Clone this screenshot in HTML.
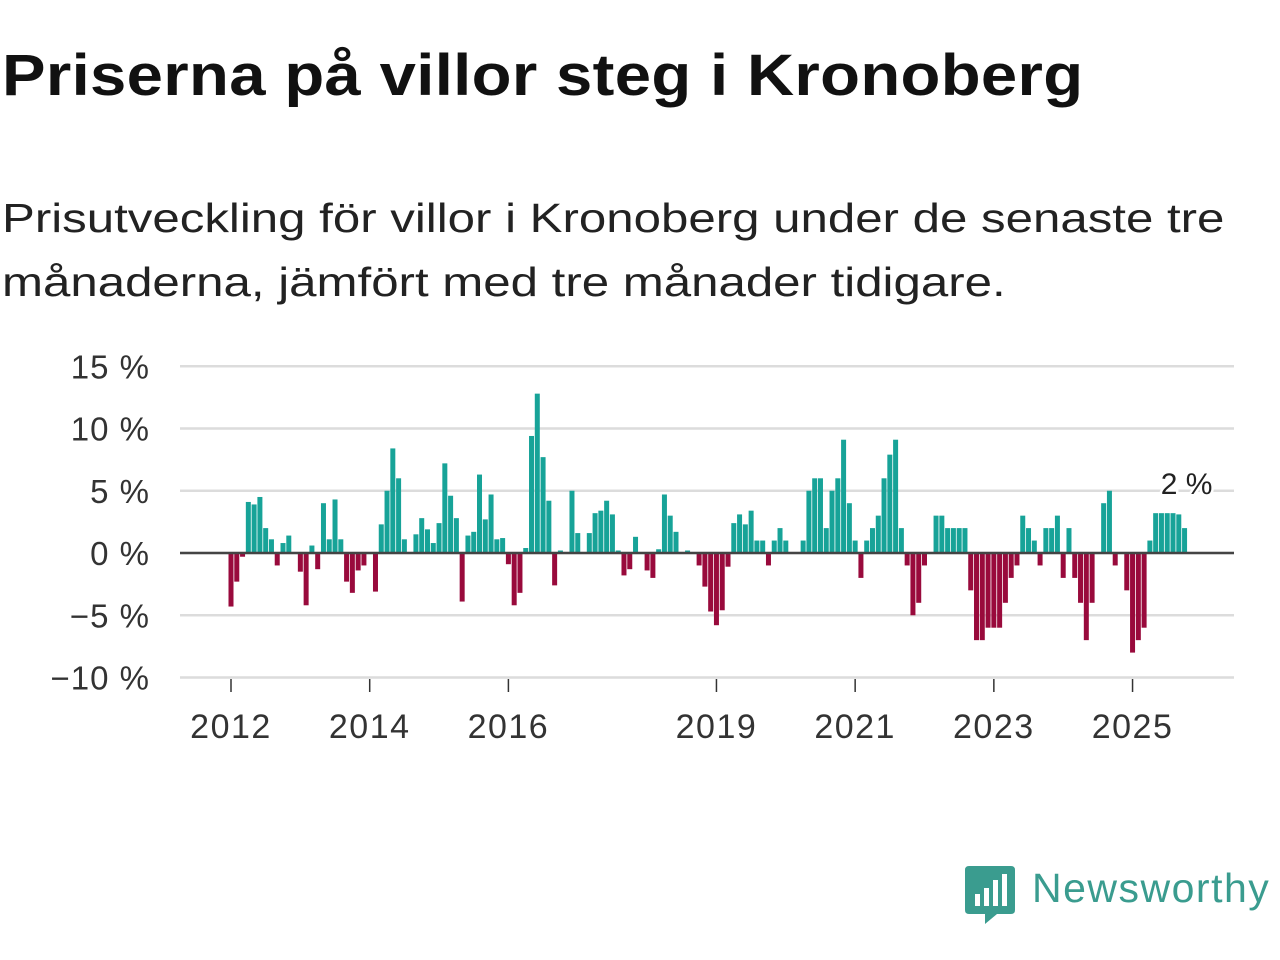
<!DOCTYPE html>
<html><head><meta charset="utf-8"><style>
body{margin:0;width:1280px;height:960px;background:#fff;font-family:"Liberation Sans","DejaVu Sans",sans-serif;overflow:hidden;position:relative}
h1{position:absolute;left:2px;top:42px;margin:0;font-size:58px;font-weight:bold;color:#111;letter-spacing:0.3px;transform:scaleX(1.125);transform-origin:left;white-space:nowrap}
.sub{position:absolute;left:2px;top:186px;margin:0;font-size:41px;line-height:64px;color:#222;transform:scaleX(1.2);transform-origin:left;white-space:nowrap}
svg{position:absolute;left:0;top:0}
</style></head><body>
<h1>Priserna på villor steg i Kronoberg</h1>
<p class="sub">Prisutveckling för villor i Kronoberg under de senaste tre<br>månaderna, jämfört med tre månader tidigare.</p>
<svg id="chart" width="1280" height="960"></svg>
<div style="position:absolute;left:965px;top:866px;">
<svg width="52" height="60" style="position:absolute;left:0;top:0"><path d="M0 4 Q0 0 4 0 H46 Q50 0 50 4 V44 Q50 48 46 48 H32 L20 58 V48 H4 Q0 48 0 44Z" fill="#3a9c8f"/><rect x="10" y="28" width="5" height="12" fill="#fff"/><rect x="19" y="22" width="5" height="18" fill="#fff"/><rect x="28" y="14" width="5" height="26" fill="#fff"/><rect x="37" y="8" width="5" height="32" fill="#fff"/></svg>
<span style="position:absolute;left:67px;top:-1px;font-size:41px;color:#3a9c8f;white-space:nowrap;letter-spacing:1.5px">Newsworthy</span></div>
<script>
const values=[-4.3,-2.3,-0.3,4.1,3.9,4.5,2.0,1.1,-1.0,0.8,
1.4,0,-1.5,-4.2,0.6,-1.3,4.0,1.1,4.3,1.1,
-2.3,-3.2,-1.4,-1.0,0,-3.1,2.3,5.0,8.4,6.0,
1.1,0,1.5,2.8,1.9,0.8,2.4,7.2,4.6,2.8,
-3.9,1.4,1.7,6.3,2.7,4.7,1.1,1.2,-0.9,-4.2,
-3.2,0.4,9.4,12.8,7.7,4.2,-2.6,0.2,0,5.0,
1.6,0,1.6,3.2,3.4,4.2,3.1,0.2,-1.8,-1.3,
1.3,0,-1.4,-2.0,0.3,4.7,3.0,1.7,0,0.2,
0,-1.0,-2.7,-4.7,-5.8,-4.6,-1.1,2.4,3.1,2.3,
3.4,1.0,1.0,-1.0,1.0,2.0,1.0,0,0,1.0,
5.0,6.0,6.0,2.0,5.0,6.0,9.1,4.0,1.0,-2.0,
1.0,2.0,3.0,6.0,7.9,9.1,2.0,-1.0,-5.0,-4.0,
-1.0,0,3.0,3.0,2.0,2.0,2.0,2.0,-3.0,-7.0,
-7.0,-6.0,-6.0,-6.0,-4.0,-2.0,-1.0,3.0,2.0,1.0,
-1.0,2.0,2.0,3.0,-2.0,2.0,-2.0,-4.0,-7.0,-4.0,
0,4.0,5.0,-1.0,0,-3.0,-8.0,-7.0,-6.0,1.0,
3.2,3.2,3.2,3.2,3.1,2.0];
const startYear=2012;
const yTicks=[15,10,5,0,-5,-10];
const yTickLabels=["15 %","10 %","5 %","0 %","−5 %","−10 %"];
const xTicks=[2012,2014,2016,2019,2021,2023,2025];
const lastLabel="2 %";
const NS="http://www.w3.org/2000/svg";
const svg=document.getElementById('chart');
const x=t=>231+(t-2012)*69.35;
const y=v=>553-v*12.45;
function mk(tag,attrs){const e=document.createElementNS(NS,tag);for(const k in attrs)e.setAttribute(k,attrs[k]);svg.appendChild(e);return e;}
yTicks.forEach((v,i)=>{
 const g=mk('line',{x1:180,x2:1234,y1:y(v),y2:y(v),stroke:'#dcdcdc','stroke-width':2.5});
 
 
 const t=mk('text',{x:150,y:y(v)+12,'text-anchor':'end','font-size':33,'letter-spacing':1,fill:'#333'});
 t.textContent=yTickLabels[i];
 
 
});
xTicks.forEach(yr=>{
 const l=mk('line',{x1:x(yr),x2:x(yr),y1:679,y2:692,stroke:'#333','stroke-width':1.5});
 
 
 const t=mk('text',{x:x(yr),y:738,'text-anchor':'middle','font-size':34,'letter-spacing':1.5,fill:'#333'});
 t.textContent=yr;
 
 
});
values.forEach((v,i)=>{
 const t=startYear+i/12;
 const cx=x(t);
 const top=Math.min(y(v),y(0)),h=Math.abs(y(v)-y(0));
 const r=mk('rect',{x:cx-2.5,y:top,width:5,height:h,fill:v>=0?'#17a398':'#990a3c'});
 
 
});
const z=mk('line',{x1:180,x2:1234,y1:y(0),y2:y(0),stroke:'#444','stroke-width':2.5});


const li=values.length-1;
const lab=mk('text',{x:x(startYear+li/12)+2,y:y(values[li])-34,'text-anchor':'middle','font-size':30,fill:'#222',stroke:'#fff','stroke-width':5,'paint-order':'stroke'});
lab.textContent=lastLabel;


</script>
</body></html>
